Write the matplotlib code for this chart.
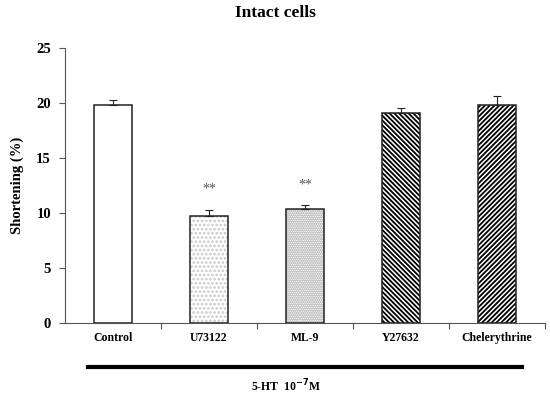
import numpy as np
import matplotlib
matplotlib.use("Agg")
import matplotlib.pyplot as plt

plt.rcParams['font.family'] = ['Liberation Serif', 'DejaVu Serif']
plt.rcParams['hatch.linewidth'] = 1.3

# data
categories = ['Control', 'U73122', 'ML-9', 'Y27632', 'Chelerythrine']
means = [19.8, 9.7, 10.35, 19.15, 19.85]
sems = [0.45, 0.6, 0.35, 0.4, 0.8]
signif = ['', '**', '**', '', '']
hatches = ['', '....', '.........', '\\' * 7, '/' * 7]
hatch_colors = ['white', '#c8c8c8', '#bdbdbd', 'black', 'black']

fig = plt.figure(figsize=(5.5, 3.98), dpi=100)
ax = fig.add_axes([0.118, 0.188, 0.873, 0.691])

x = np.arange(len(categories))
width = 0.4

# hatch layer, then outline layer on top
for xi, m, h, hc in zip(x, means, hatches, hatch_colors):
    ax.bar(xi, m, width, color='white', hatch=h, edgecolor=hc, linewidth=0, zorder=2)
ax.bar(x, means, width, facecolor='none', edgecolor='#222222', linewidth=1.1, zorder=3)

ax.errorbar(x, means, yerr=[np.zeros(len(x)), sems], fmt='none', ecolor='#222222',
            elinewidth=0.8, capsize=3, capthick=0.8, zorder=4)

for xi, m, s, t in zip(x, means, sems, signif):
    if t:
        ax.text(xi, m + s + 1.3, t, ha='center', va='bottom', fontsize=10, color='#555555')

ax.set_xlim(-0.5, len(categories) - 0.5)
ax.set_ylim(0, 25)
ax.set_yticks([0, 5, 10, 15, 20, 25])
ax.set_xticks(x)
ax.set_xticklabels(categories, fontsize=8.5, fontweight='bold')
ax.set_xticks(np.arange(len(categories)) + 0.5, minor=True)
ax.tick_params(axis='x', which='major', length=0, pad=6)
ax.tick_params(axis='x', which='minor', length=4, width=0.8, direction='out', color='#555555')
ax.tick_params(axis='y', length=4, width=0.8, labelsize=10.5, pad=6, color='#555555')
for lbl in ax.get_yticklabels():
    lbl.set_fontweight('bold')

ax.spines['top'].set_visible(False)
ax.spines['right'].set_visible(False)
ax.spines['left'].set_color('#555555')
ax.spines['bottom'].set_color('#555555')
ax.spines['left'].set_linewidth(0.8)
ax.spines['bottom'].set_linewidth(0.8)

ax.set_ylabel('Shortening (%)', fontsize=10.5, fontweight='bold', labelpad=9)
fig.text(0.5, 0.968, 'Intact cells', ha='center', va='center', fontsize=12.5, fontweight='bold')

# treatment bar under categories
fig.add_artist(plt.Line2D([88 / 550, 522 / 550], [1 - 367 / 398, 1 - 367 / 398],
                          color='black', linewidth=3, transform=fig.transFigure))
fig.text(0.52, 1 - 386 / 398, '5-HT  10$^{\\mathbf{-7}}$M', ha='center', va='center',
         fontsize=8.5, fontweight='bold')

fig.savefig('out.png', dpi=100)
